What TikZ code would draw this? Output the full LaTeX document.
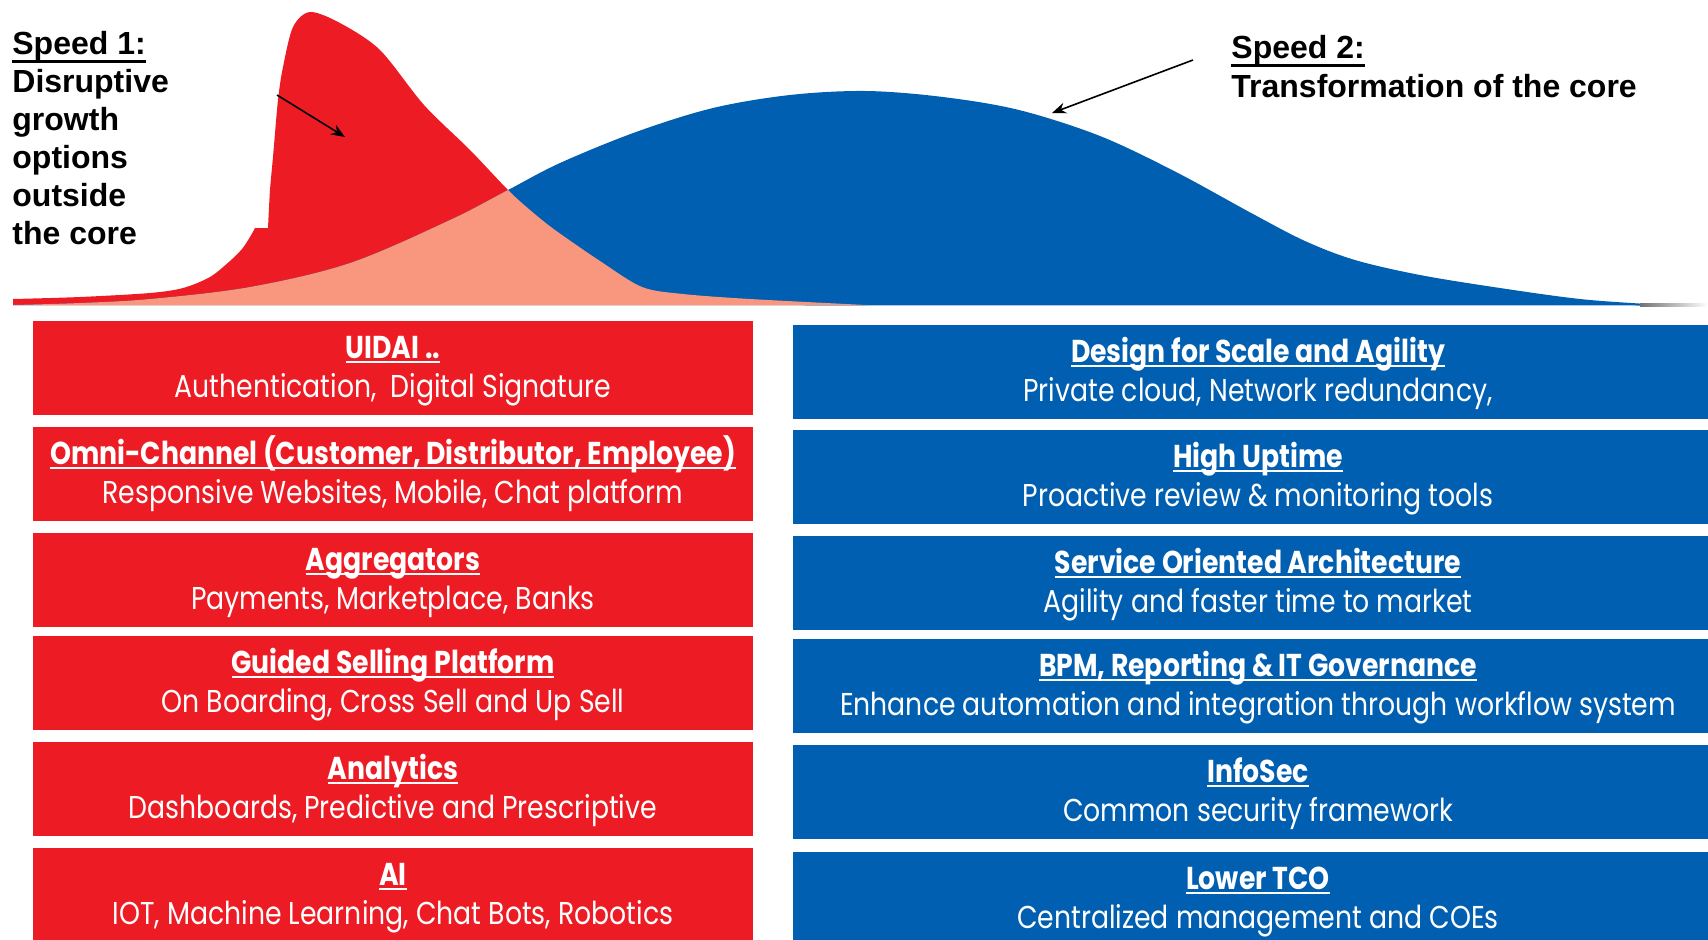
\documentclass[tikz,border=0pt]{standalone}
\usepackage{fontspec}
\setmainfont{Liberation Sans}
\newfontfamily\boxfont[FakeStretch=0.845]{Poppins}
\usetikzlibrary{arrows.meta}

\definecolor{sred}{HTML}{ED1C24}
\definecolor{sblue}{HTML}{005FB0}
\definecolor{ssalmon}{HTML}{F9967E}

% underlined text: #1 text, #2 depth of the rule below the baseline, #3 rule thickness
\newcommand{\ulbox}[3]{\setbox0=\hbox{#1}\rlap{\rule[-#2]{\wd0}{#3}}\box0}

% outline of the disruptive-growth curve (speed 1)
\newcommand{\redpath}{(13,305) -- plot[smooth,tension=0.5] coordinates {(13,299) (80,297) (150,293) (183,288) (210,277) (230,261) (242,249) (250,237) (255,228)} -- (268,228) -- plot[smooth,tension=0.5] coordinates {(268,228) (270,190) (273,157) (278,100) (283,67) (293,27) (310,12) (340,23) (380,50) (424,105) (470,150) (508,190) (530,210) (555,230) (600,261) (642,287) (683,294) (750,299) (866,305)} -- cycle}

% outline of the core-transformation curve (speed 2)
\newcommand{\bluepath}{(13,305) -- plot[smooth,tension=0.55] coordinates {(13,305) (80,303) (150,299) (250,287) (350,263) (450,220) (508,190) (560,163) (636,132) (713,108) (790,95) (866,91) (943,97) (1019,110) (1100,136) (1176,172) (1253,214) (1305,241) (1355,260) (1420,275) (1500,288) (1580,299) (1647,304) (1675,305.5)} -- cycle}

\tikzset{
  redbox/.style={fill=sred, draw=none, minimum width=360pt, minimum height=47pt, anchor=north west, inner sep=0pt, outer sep=0pt},
  bluebox/.style={fill=sblue, draw=none, minimum width=465pt, minimum height=47pt, anchor=north west, inner sep=0pt, outer sep=0pt},
  boxtitle/.style={anchor=base, text=white, inner sep=0pt, font=\boxfont\bfseries\fontsize{15.8}{19}\selectfont},
  boxtext/.style={anchor=base, text=white, inner sep=0pt, font=\boxfont\fontsize{15.8}{19}\selectfont},
  speedone/.style={anchor=north west, align=left, inner sep=0pt, font=\bfseries\fontsize{16}{19}\selectfont},
  speedtwo/.style={anchor=north west, align=left, inner sep=0pt, font=\bfseries\fontsize{16}{19.5}\selectfont},
  pointer/.style={-{Stealth[length=7pt,width=5.5pt]}, line width=0.8pt, draw=black}
}

\begin{document}
\begin{tikzpicture}[x=0.5pt,y=-0.5pt]
\useasboundingbox (0,0) rectangle (1708,939);
\clip (0,0) rectangle (1708,939);

% the two adoption curves and their overlap
\fill[sred] \redpath;
\fill[sblue] \bluepath;
\begin{scope}
  \clip \bluepath;
  \fill[ssalmon] \redpath;
\end{scope}
\shade[left color=black!55, right color=white] (1640,303.5) rectangle (1708,306.5);

% curve labels
\node[speedone] (sp1) at (12,31) {\ulbox{Speed 1:}{4pt}{1.2pt}\\Disruptive\\growth\\options\\outside\\the core};
\node[speedtwo] (sp2) at (1231,35) {\ulbox{Speed 2:}{4pt}{1.2pt}\\Transformation of the core};

\coordinate (p1s) at (277,95);
\coordinate (p1e) at (345,137);
\coordinate (p2s) at (1193,60);
\coordinate (p2e) at (1052,113);
\draw[pointer] (p1s) -- (p1e);
\draw[pointer] (p2s) -- (p2e);

% speed 1 initiatives
\foreach \n/\top/\ttl/\txt in {
  1/321/{UIDAI ..}/{Authentication,~~Digital Signature},
  2/427/{Omni-Channel (Customer, Distributor, Employee)}/{Responsive Websites, Mobile, Chat platform},
  3/533/{Aggregators}/{Payments, Marketplace, Banks},
  4/636/{Guided Selling Platform}/{On Boarding, Cross Sell and Up Sell},
  5/742/{Analytics}/{Dashboards, Predictive and Prescriptive},
  6/848/{AI}/{IOT, Machine Learning, Chat Bots, Robotics}}
{
  \node[redbox] (r\n) at (33,\top) {};
  \node[boxtitle] (rt\n) at ([yshift=-18.5pt]r\n.north) {\ulbox{\ttl}{2.6pt}{0.9pt}};
  \node[boxtext] (rd\n) at ([yshift=-38pt]r\n.north) {\txt};
}

% speed 2 initiatives
\foreach \n/\top/\ttl/\txt in {
  1/325/{Design for Scale and Agility}/{Private cloud, Network redundancy,},
  2/430/{High Uptime}/{Proactive review \& monitoring tools},
  3/536/{Service Oriented Architecture}/{Agility and faster time to market},
  4/639/{BPM, Reporting \& IT Governance}/{Enhance automation and integration through workflow system},
  5/745/{InfoSec}/{Common security framework},
  6/852/{Lower TCO}/{Centralized management and COEs}}
{
  \node[bluebox] (b\n) at (793,\top) {};
  \node[boxtitle] (bt\n) at ([yshift=-18.5pt]b\n.north) {\ulbox{\ttl}{2.6pt}{0.9pt}};
  \node[boxtext] (bd\n) at ([yshift=-38pt]b\n.north) {\txt};
}
\end{tikzpicture}
\end{document}
